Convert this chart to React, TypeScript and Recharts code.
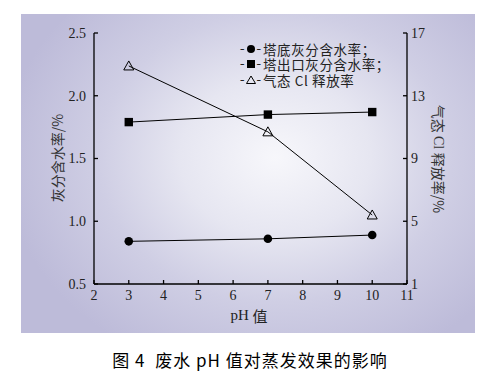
import React from 'react';
import { ComposedChart, Line, XAxis, YAxis } from 'recharts';

const phValues = [3, 7, 10];
const bottomAshMoisture = [0.84, 0.86, 0.89];
const outletAshMoisture = [1.79, 1.85, 1.87];
const gaseousClRelease = [14.9, 10.7, 5.4];
const xTicks = [2, 3, 4, 5, 6, 7, 8, 9, 10, 11];
const leftTicks = [0.5, 1.0, 1.5, 2.0, 2.5];
const rightTicks = [1, 5, 9, 13, 17];
const seriesNames = ['塔底灰分含水率；', '塔出口灰分含水率；', '气态 Cl 释放率'];

const data = phValues.map((ph, i) => ({
  ph,
  bottom: bottomAshMoisture[i],
  outlet: outletAshMoisture[i],
  cl: gaseousClRelease[i],
}));

const SERIF = '"Liberation Serif", "Times New Roman", "Noto Sans CJK SC", serif';
const CJK = '"Noto Sans CJK SC", sans-serif';

const CircleDot = (p: any) => (
  <circle key={`c${p.index}`} cx={p.cx} cy={p.cy} r={4.3} fill="#000" />
);
const SquareDot = (p: any) => (
  <rect key={`s${p.index}`} x={p.cx - 4.2} y={p.cy - 4.2} width={8.4} height={8.4} fill="#000" />
);
const TriDot = (p: any) => (
  <path
    key={`t${p.index}`}
    d={`M${p.cx},${p.cy - 5} L${p.cx + 5},${p.cy + 4} L${p.cx - 5},${p.cy + 4} Z`}
    fill="none"
    stroke="#000"
    strokeWidth={1}
  />
);

const markerSvg = (i: number) => {
  if (i === 0) return <circle cx={5} cy={5} r={4} fill="#000" />;
  if (i === 1) return <rect x={1} y={1} width={8} height={8} fill="#000" />;
  return <path d="M5,1 L9.5,8.5 L0.5,8.5 Z" fill="none" stroke="#000" strokeWidth={1} />;
};

const tickStyle = { fontFamily: SERIF, fontSize: 14, fill: '#222' };

export default function App() {
  return (
    <div style={{ position: 'absolute', left: 0, top: 0, width: 500, height: 372, background: '#fff' }}>
      <div
        style={{
          position: 'absolute',
          left: 21,
          top: 14,
          width: 454,
          height: 319,
          background:
            'radial-gradient(ellipse 60% 70% at 56% 45%, #f7f7fb 0%, #e6e6f1 35%, #cfcee4 65%, #bdbbd9 100%)',
        }}
      />
      <div style={{ position: 'absolute', left: 0, top: 0 }}>
        <ComposedChart
          width={500}
          height={372}
          data={data}
          margin={{ top: 33, right: 53, bottom: 58, left: 54 }}
        >
          <XAxis
            dataKey="ph"
            type="number"
            domain={[2, 11]}
            ticks={xTicks}
            interval={0}
            tickSize={-4}
            tickMargin={10}
            height={30}
            stroke="#000"
            strokeWidth={1.3}
            tick={tickStyle}
            label={{
              content: () => (
                <text x={249} y={315} textAnchor="middle" dominantBaseline="central" fill="#222" fontSize={15}>
                  <tspan fontFamily={SERIF}>pH </tspan>
                  <tspan fontFamily={CJK}>值</tspan>
                </text>
              ),
            }}
          />
          <YAxis
            yAxisId="left"
            orientation="left"
            domain={[0.5, 2.5]}
            ticks={leftTicks}
            interval={0}
            width={40}
            tickSize={-4}
            tickMargin={12}
            stroke="#000"
            strokeWidth={1.3}
            tick={tickStyle}
            tickFormatter={(v: number) => v.toFixed(1)}
            label={{
              content: () => (
                <text
                  x={57}
                  y={158}
                  transform="rotate(-90 57 158)"
                  textAnchor="middle"
                  dominantBaseline="central"
                  fill="#333"
                  fontSize={14}
                  fontFamily={CJK}
                >
                  灰分含水率/%
                </text>
              ),
            }}
          />
          <YAxis
            yAxisId="right"
            orientation="right"
            domain={[1, 17]}
            ticks={rightTicks}
            interval={0}
            width={40}
            tickSize={-4}
            tickMargin={8}
            stroke="#000"
            strokeWidth={1.3}
            tick={tickStyle}
            label={{
              content: () => (
                <text
                  x={439}
                  y={159}
                  transform="rotate(90 439 159)"
                  textAnchor="middle"
                  dominantBaseline="central"
                  fill="#333"
                  fontSize={14}
                >
                  <tspan fontFamily={CJK}>气态 </tspan>
                  <tspan fontFamily={SERIF}>Cl </tspan>
                  <tspan fontFamily={CJK}>释放率/%</tspan>
                </text>
              ),
            }}
          />
          <Line
            yAxisId="left"
            dataKey="bottom"
            stroke="#000"
            strokeWidth={1}
            dot={CircleDot}
            activeDot={false}
            isAnimationActive={false}
          />
          <Line
            yAxisId="left"
            dataKey="outlet"
            stroke="#000"
            strokeWidth={1}
            dot={SquareDot}
            activeDot={false}
            isAnimationActive={false}
          />
          <Line
            yAxisId="right"
            dataKey="cl"
            stroke="#000"
            strokeWidth={1}
            dot={TriDot}
            activeDot={false}
            isAnimationActive={false}
          />
        </ComposedChart>
      </div>
      <div
        style={{
          position: 'absolute',
          left: 240,
          top: 41,
          fontFamily: SERIF,
          fontSize: 13.5,
          lineHeight: '15px',
          color: '#222',
        }}
      >
        {seriesNames.map((n, i) => (
          <div
            key={n}
            style={{ display: 'flex', alignItems: 'center', height: 15.5, lineHeight: '14px', whiteSpace: 'nowrap' }}
          >
            <span>-</span>
            <svg width={10} height={10} style={{ margin: '0 1px' }}>{markerSvg(i)}</svg>
            <span>-</span>
            <span style={{ fontFamily: CJK, marginLeft: 2, letterSpacing: 0.6 }}>{n}</span>
          </div>
        ))}
      </div>
      <div
        style={{
          position: 'absolute',
          left: 0,
          top: 350,
          width: 500,
          height: 20,
          lineHeight: '20px',
          textAlign: 'center',
          fontFamily: '"Noto Sans CJK SC", sans-serif',
          fontSize: 17,
          fontWeight: 400,
          letterSpacing: 1.0,
          color: '#000',
          whiteSpace: 'pre',
        }}
      >
        {'图 4  废水 pH 值对蒸发效果的影响'}
      </div>
    </div>
  );
}
